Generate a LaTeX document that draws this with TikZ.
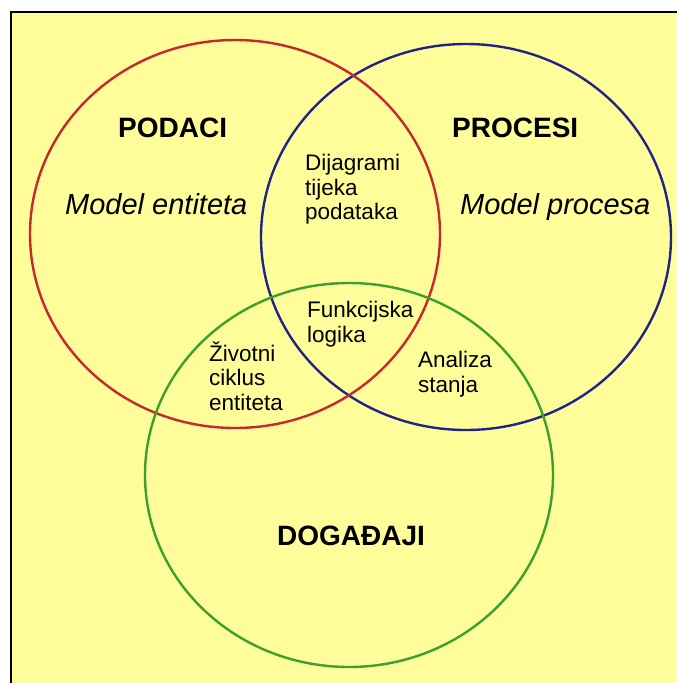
\documentclass[tikz,border=0pt]{standalone}
\usepackage{fontspec}
\setmainfont{Liberation Sans}
\definecolor{bgyellow}{RGB}{255,253,153}
\definecolor{ringred}{RGB}{200,40,45}
\definecolor{ringblue}{RGB}{35,35,135}
\definecolor{ringgreen}{RGB}{60,160,45}
\tikzset{%
  % Specifications for style of rings and texts:
       ring/.style = {line width=2.4pt},
    setname/.style = {anchor=base west, inner sep=0pt,
                      font=\fontsize{28}{30}\selectfont\bfseries},
  modelname/.style = {anchor=base west, inner sep=0pt,
                      font=\fontsize{29}{31}\selectfont\itshape},
    overlap/.style = {anchor=north west, inner sep=0pt, align=left,
                      font=\fontsize{22.5}{24.5}\selectfont},
}
\begin{document}
\begin{tikzpicture}[x=1pt, y=-1pt]
  \useasboundingbox (0,0) rectangle (677,683);
  \fill[white] (0,0) rectangle (677,683);
  \fill[bgyellow] (11,12) rectangle (677,683);
  \draw[line width=2.5pt] (11,683) -- (11,12) -- (677,12);
  % The three rings
  \draw[ring, ringblue]  (466,237) ellipse [x radius=205, y radius=193];
  \draw[ring, ringred]   (235,234) ellipse [x radius=205, y radius=194];
  \draw[ring, ringgreen] (349,475) ellipse [x radius=204, y radius=192];
  % Names of the sets
  \node (podaci)        [setname]   at (118,137) {PODACI};
  \node (procesi)       [setname]   at (452,137) {PROCESI};
  \node (dogadaji)      [setname]   at (277,545) {DOGAĐAJI};
  \node (modelEntiteta) [modelname] at (65,214)  {Model entiteta};
  \node (modelProcesa)  [modelname] at (460,214) {Model procesa};
  % Texts in the overlaps
  \node (dijagrami)     [overlap]   at (305,154)   {Dijagrami\\tijeka\\podataka};
  \node (funkcijska)    [overlap]   at (307,301)   {Funkcijska\\logika};
  \node (zivotni)       [overlap]   at (209,341.5) {Životni\\ciklus\\entiteta};
  \node (analiza)       [overlap]   at (418,351)   {Analiza\\stanja};
\end{tikzpicture}
\end{document}
